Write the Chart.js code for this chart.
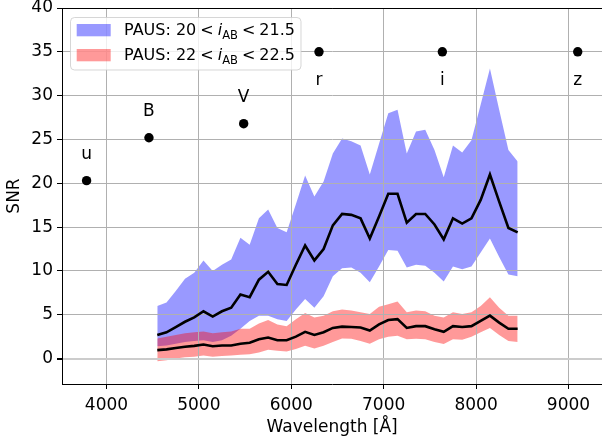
<!DOCTYPE html>
<html><head><meta charset="utf-8">
<script src="https://cdn.jsdelivr.net/npm/chart.js@4/dist/chart.umd.min.js"></script>
<style>html,body{margin:0;padding:0;background:#fff;overflow:hidden}#wrap{width:602px;height:443px;position:relative;overflow:hidden}</style>
</head><body><div id="wrap"><canvas id="c" width="607" height="443"></canvas></div>
<script>
// PAUS narrow-band centres [Å]
const wavelength = [4550,4650,4750,4850,4950,5050,5150,5250,5350,5450,
  5550,5650,5750,5850,5950,6050,6150,6250,6350,6450,
  6550,6650,6750,6850,6950,7050,7150,7250,7350,7450,
  7550,7650,7750,7850,7950,8050,8150,8250,8350,8450];

// Bright sample 20 < i_AB < 21.5
const brightMedian = [2.7,3.0,3.6,4.2,4.7,5.4,4.8,5.4,5.8,7.3,
  7.0,9.0,9.9,8.5,8.4,10.7,12.9,11.2,12.5,15.2,
  16.5,16.4,16.0,13.7,16.2,18.8,18.8,15.5,16.5,16.5,
  15.3,13.6,16.0,15.4,16.0,18.1,21.0,17.9,14.9,14.4];
const brightUpper = [6.0,6.4,7.7,9.1,9.8,11.2,10.0,10.7,11.3,13.8,
  13.0,16.0,17.0,14.9,14.4,17.6,20.9,18.5,20.2,23.4,
  25.1,24.8,24.3,21.0,24.5,28.0,28.4,23.4,25.9,26.1,
  23.8,20.7,24.3,23.5,24.9,29.0,33.1,28.4,23.8,22.5];
const brightLower = [1.4,1.5,1.7,1.9,2.0,2.1,1.9,2.1,2.6,3.4,
  4.3,4.9,4.9,4.5,4.3,5.6,6.8,5.8,7.1,9.4,
  10.3,10.4,9.8,8.7,10.5,12.4,12.3,10.4,10.7,10.6,
  9.8,8.8,10.5,10.2,10.5,12.1,13.7,11.6,9.6,9.4];

// Faint sample 22 < i_AB < 22.5
const faintMedian = [0.97,1.05,1.2,1.35,1.45,1.6,1.4,1.5,1.5,1.7,
  1.8,2.2,2.4,2.1,2.1,2.5,3.05,2.7,3.0,3.5,
  3.65,3.6,3.55,3.2,3.9,4.4,4.5,3.5,3.7,3.7,
  3.35,3.05,3.7,3.6,3.7,4.3,4.9,4.1,3.4,3.4];
const faintUpper = [2.3,2.5,2.7,2.9,3.0,3.1,2.9,3.0,3.1,3.4,
  3.4,4.0,4.4,3.9,3.7,4.5,5.2,4.7,4.9,5.4,
  5.6,5.5,5.3,5.1,5.9,6.2,6.5,5.3,5.5,5.4,
  4.9,4.7,5.3,5.1,5.3,6.0,7.0,5.8,4.9,4.9];
const faintLower = [-0.3,-0.2,0.0,0.15,0.2,0.35,0.2,0.3,0.35,0.45,
  0.5,0.7,1.0,0.9,0.8,1.1,1.45,1.15,1.45,1.9,
  2.3,2.25,2.0,1.7,2.2,2.5,2.6,2.2,2.25,2.2,
  1.9,1.65,2.2,2.15,2.5,3.0,3.5,2.7,2.0,1.9];

// Broad-band filters
const bandNames = ['u','B','V','r','i','z'];
const bandWave  = [3785,4460,5485,6300,7635,9100];
const bandSNR   = [20.3,25.2,26.8,35,35,35];
const bandLabelAbove = [true,true,true,false,false,false];

const xTicks = [4000,5000,6000,7000,8000,9000];
const yTicks = [0,5,10,15,20,25,30,35,40];
const legendLow = ['20','21.5'];
const legendHigh = ['22','22.5'];

const FONT = '"DejaVu Sans", sans-serif';
const pts = arr => arr.map((v,i)=>({x:wavelength[i], y:v}));
const BLUE = 'rgba(0,0,255,0.4)', RED = 'rgba(255,0,0,0.4)';

const overlay = {
  id:'overlay',
  afterDatasetsDraw(chart){
    const {ctx, chartArea:a, scales:{x,y}} = chart;
    ctx.save();
    ctx.strokeStyle='#000'; ctx.lineWidth=1;
    ctx.beginPath(); ctx.moveTo(a.left, a.top+0.5); ctx.lineTo(a.right, a.top+0.5); ctx.stroke();
    ctx.fillStyle='#000'; ctx.font='17px '+FONT; ctx.textAlign='center'; ctx.textBaseline='alphabetic';
    bandNames.forEach((n,i)=>{
      const px = x.getPixelForValue(bandWave[i]);
      const py = bandLabelAbove[i] ? y.getPixelForValue(bandSNR[i]+2)-4 : y.getPixelForValue(bandSNR[i]-2)+15.5;
      ctx.fillText(n, px, py);
    });
    const bx=70.5, by=17.5, bw=230.5, bh=52.5, r=4;
    ctx.beginPath();
    ctx.moveTo(bx+r,by); ctx.lineTo(bx+bw-r,by); ctx.arcTo(bx+bw,by,bx+bw,by+r,r);
    ctx.lineTo(bx+bw,by+bh-r); ctx.arcTo(bx+bw,by+bh,bx+bw-r,by+bh,r);
    ctx.lineTo(bx+r,by+bh); ctx.arcTo(bx,by+bh,bx,by+bh-r,r);
    ctx.lineTo(bx,by+r); ctx.arcTo(bx,by,bx+r,by,r); ctx.closePath();
    ctx.fillStyle='rgba(255,255,255,0.8)'; ctx.fill();
    ctx.strokeStyle='rgba(204,204,204,0.8)'; ctx.lineWidth=1; ctx.stroke();
    const entries = [[BLUE, legendLow, 35], [RED, legendHigh, 60]];
    entries.forEach(([col, lim, base])=>{
      ctx.fillStyle=col; ctx.fillRect(76.7, base-11, 34, 12.3);
      ctx.fillStyle='#000'; ctx.textAlign='left'; ctx.textBaseline='alphabetic';
      let cx = 124;
      const put = (t, f, dy=0)=>{ ctx.font=f; ctx.fillText(t, cx, base+dy); cx += ctx.measureText(t).width; };
      const reg='16px '+FONT, it='italic 16px '+FONT, sub='11.5px '+FONT;
      put('PAUS: '+lim[0], reg);
      cx += 4; put('<', reg); cx += 4;
      put('i', it); put('AB', sub, 3.5);
      cx += 4; put('<', reg); cx += 4;
      put(lim[1], reg);
    });
    ctx.restore();
  }
};

new Chart(document.getElementById('c'), {
  type:'line',
  data:{ datasets:[
    {data:pts(brightUpper), fill:'+1', backgroundColor:BLUE, borderColor:'rgba(0,0,0,0)', borderWidth:0, pointRadius:0, order:5},
    {data:pts(brightLower), fill:false, borderColor:'rgba(0,0,0,0)', borderWidth:0, pointRadius:0, order:5},
    {data:pts(faintUpper), fill:'+1', backgroundColor:RED, borderColor:'rgba(0,0,0,0)', borderWidth:0, pointRadius:0, order:4},
    {data:pts(faintLower), fill:false, borderColor:'rgba(0,0,0,0)', borderWidth:0, pointRadius:0, order:4},
    {data:pts(brightMedian), fill:false, borderColor:'#000', borderWidth:2.6, pointRadius:0, order:2},
    {data:pts(faintMedian), fill:false, borderColor:'#000', borderWidth:2.6, pointRadius:0, order:2},
    {type:'scatter', data:bandWave.map((w,i)=>({x:w,y:bandSNR[i]})), backgroundColor:'#000', borderWidth:0, pointRadius:4.7, order:1}
  ]},
  options:{
    responsive:false, animation:false, devicePixelRatio:1,
    layout:{padding:{top:8,right:0,left:0,bottom:0}},
    plugins:{legend:{display:false}, tooltip:{enabled:false}, filler:{drawTime:'beforeDraw'}},
    elements:{line:{tension:0}},
    scales:{
      x:{type:'linear', min:3519, max:9366,
        afterBuildTicks: s=>{ s.ticks = xTicks.map(v=>({value:v})); },
        afterFit: s=>{ s.height = 59; s.paddingLeft = 0; s.paddingRight = 0; },
        grid:{color:'#b0b0b0', lineWidth:1, tickLength:5, tickColor:'#000'},
        border:{display:true, color:'#000', width:1},
        ticks:{color:'#000', font:{family:FONT, size:17}, padding:6, maxRotation:0, callback:v=>String(v)},
        title:{display:true, text:'Wavelength [Å]', color:'#000', font:{family:FONT, size:17}, padding:{top:0,bottom:5}}
      },
      y:{type:'linear', min:-2.9, max:40,
        afterBuildTicks: s=>{ s.ticks = yTicks.map(v=>({value:v})); },
        afterFit: s=>{ s.width = 62; s.paddingTop = 0; s.paddingBottom = 0; },
        grid:{color:c=>c.tick && c.tick.value===0 ? '#cccccc' : '#b0b0b0', lineWidth:c=>c.tick && c.tick.value===0 ? 2 : 1, tickLength:5, tickColor:'#000'},
        border:{display:true, color:'#000', width:1},
        ticks:{color:'#000', font:{family:FONT, size:17}, padding:4, callback:v=>String(v)},
        title:{display:true, text:'SNR', color:'#000', font:{family:FONT, size:17}, padding:{top:4,bottom:0}}
      }
    }
  },
  plugins:[overlay]
});
</script></body></html>
